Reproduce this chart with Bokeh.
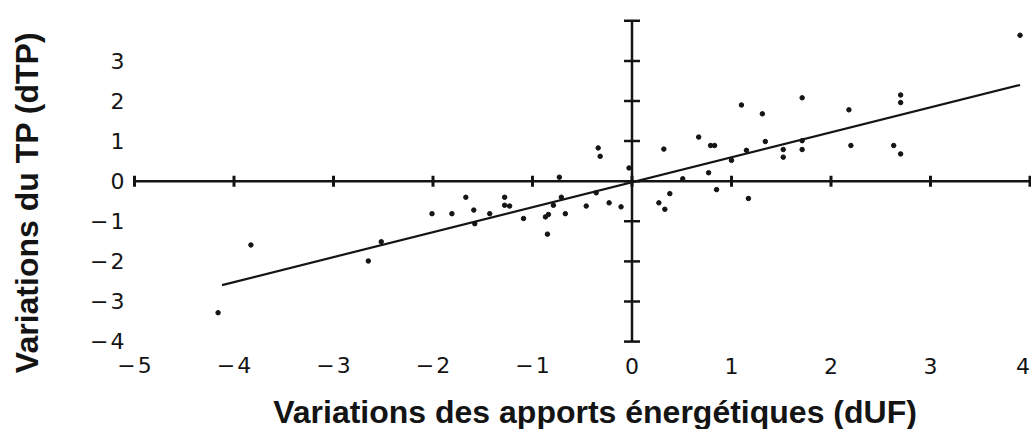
import math
from bokeh.plotting import figure
from bokeh.models import Range1d, Label
from bokeh.core.properties import value
from bokeh.embed import file_html
from bokeh.resources import INLINE

# ---- data ----
x_ticks = [-5, -4, -3, -2, -1, 0, 1, 2, 3, 4]
x_tick_labels = ["\u2212\u200a5", "\u2212\u200a4", "\u2212\u200a3", "\u2212\u200a2", "\u2212\u200a1",
                 "0", "1", "2", "3", "4"]
y_ticks = [-4, -3, -2, -1, 0, 1, 2, 3]
y_tick_labels = ["\u2212\u200a4", "\u2212\u200a3", "\u2212\u200a2", "\u2212\u200a1", "0", "1", "2", "3"]
y_axis_marks = [-4, -3, -2, -1, 0, 1, 2, 3, 4]

dUF = [-4.16, -3.83, -2.65, -2.52, -2.01, -1.81, -1.67, -1.59, -1.58, -1.43,
       -1.28, -1.28, -1.23, -1.09, -0.87, -0.84, -0.85, -0.79, -0.73, -0.71,
       -0.67, -0.46, -0.36, -0.34, -0.32, -0.23, -0.11, -0.03, 0.27, 0.33,
       0.38, 0.32, 0.51, 0.67, 0.77, 0.79, 0.83, 0.85, 1.00, 1.10,
       1.15, 1.17, 1.31, 1.34, 1.52, 1.52, 1.71, 1.71, 1.71, 2.18,
       2.20, 2.63, 2.70, 2.70, 2.70, 3.90]
dTP = [-3.28, -1.59, -1.99, -1.51, -0.81, -0.81, -0.40, -0.72, -1.06, -0.81,
       -0.40, -0.60, -0.62, -0.93, -0.89, -0.83, -1.32, -0.60, 0.10, -0.40,
       -0.81, -0.62, -0.29, 0.83, 0.62, -0.54, -0.64, 0.33, -0.54, -0.70,
       -0.31, 0.80, 0.06, 1.10, 0.21, 0.89, 0.89, -0.21, 0.52, 1.90,
       0.77, -0.43, 1.68, 0.99, 0.79, 0.60, 2.08, 1.01, 0.79, 1.78,
       0.89, 0.89, 0.68, 2.15, 1.96, 3.64]

fit_x = [-4.12, 3.90]
fit_y = [-2.59, 2.40]

x_title = "Variations des apports énergétiques (dUF)"
y_title = "Variations du TP (dTP)"

INK = "#141414"
W, H = 1031, 429
# pixel mapping of the reference: x=0 at 631.5 px, 99.5 px per unit; y=0 at 180.7 px, 40.1 px per unit
X0, SX, Y0, SY = 631.5, 99.5, 180.7, 40.1

p = figure(width=W, height=H, output_backend="svg", toolbar_location=None,
           x_axis_location=None, y_axis_location=None,
           x_range=Range1d(-X0 / SX, (W - X0) / SX), y_range=Range1d(-(H - Y0) / SY, Y0 / SY),
           min_border=0, min_border_left=0, min_border_right=0, min_border_top=0, min_border_bottom=0)
p.xgrid.visible = False
p.ygrid.visible = False
p.outline_line_color = None
p.background_fill_color = "white"
p.border_fill_color = "white"

# crossed axes through the origin
p.segment(x0=[x_ticks[0], 0], y0=[0, y_axis_marks[0]], x1=[x_ticks[-1], 0], y1=[0, y_axis_marks[-1]],
          line_color=INK, line_width=2.5)
# tick marks on the horizontal axis
th = 5.5 / SY
p.segment(x0=x_ticks, y0=[-th] * len(x_ticks), x1=x_ticks, y1=[th] * len(x_ticks),
          line_color=INK, line_width=3)
# tick marks on the vertical axis
tw = 8 / SX
p.segment(x0=[-tw] * len(y_axis_marks), y0=y_axis_marks, x1=[tw] * len(y_axis_marks), y1=y_axis_marks,
          line_color=INK, line_width=2.5)

# tick labels (the last x label is nudged so that it stays inside the window)
x_lab_y = (Y0 - 365) / SY
x_offsets = [0] * (len(x_ticks) - 1) + [-7]
p.text(x=x_ticks, y=[x_lab_y] * len(x_ticks), text=x_tick_labels, x_offset=x_offsets,
       text_font=value("DejaVu Sans"), text_font_size="22px", text_color=INK,
       text_align="center", text_baseline="middle")
y_lab_x = (124 - X0) / SX
p.text(x=[y_lab_x] * len(y_ticks), y=y_ticks, text=y_tick_labels,
       text_font=value("DejaVu Sans"), text_font_size="22px", text_color=INK,
       text_align="right", text_baseline="middle")

# regression line
p.line(fit_x, fit_y, line_color=INK, line_width=2.2)
# points
p.scatter(dUF, dTP, size=4.5, color=INK)

# axis titles
p.add_layout(Label(x=26, y=H - 202, x_units="screen", y_units="screen", text=y_title,
                   angle=math.pi / 2, text_align="center", text_baseline="alphabetic",
                   text_font="Liberation Sans", text_font_style="bold", text_font_size="32px",
                   text_color=INK))
p.add_layout(Label(x=594.5, y=17.5, x_units="screen", y_units="screen", text=x_title,
                   text_align="center", text_baseline="alphabetic",
                   text_font="Liberation Sans", text_font_style="bold", text_font_size="32px",
                   text_color=INK))

open("out.html", "w").write(file_html(p, INLINE))
